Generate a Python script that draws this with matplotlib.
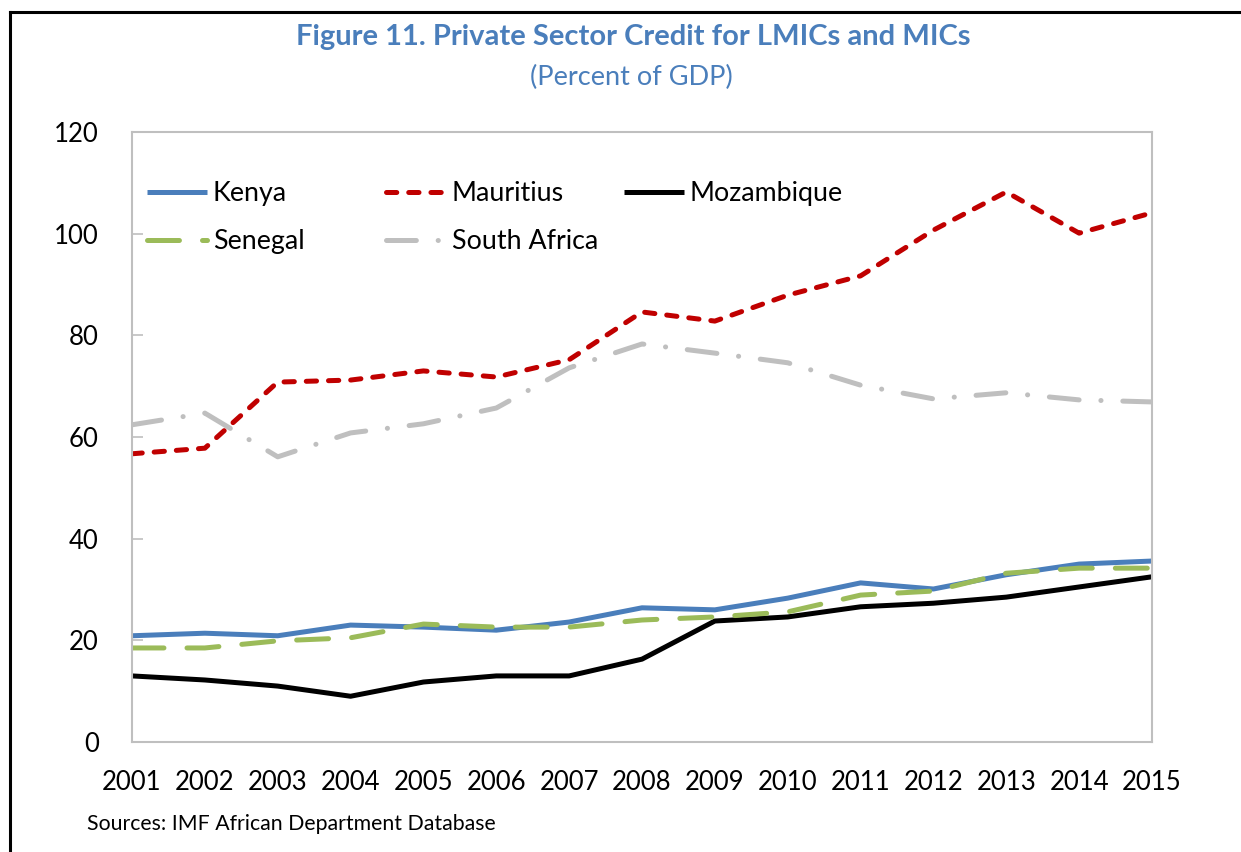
import matplotlib
matplotlib.use("Agg")
import matplotlib.pyplot as plt
from matplotlib.lines import Line2D

plt.rcParams['font.family'] = ['Lato', 'DejaVu Sans']
plt.rcParams['lines.scale_dashes'] = False

years = [str(y) for y in range(2001, 2016)]
kenya = [20.9, 21.4, 20.9, 23.0, 22.6, 22.0, 23.6, 26.4, 26.0, 28.3, 31.3, 30.1, 32.9, 35.0, 35.6]
mauritius = [56.7, 57.8, 70.8, 71.2, 73.0, 71.8, 75.2, 84.6, 82.8, 87.9, 91.7, 100.7, 108.2, 100.1, 104.1]
mozambique = [13.0, 12.2, 11.0, 9.0, 11.8, 13.0, 13.0, 16.3, 23.8, 24.6, 26.6, 27.3, 28.5, 30.5, 32.5]
senegal = [18.5, 18.5, 19.9, 20.5, 23.2, 22.6, 22.6, 24.0, 24.6, 25.6, 28.9, 29.7, 33.2, 34.2, 34.2]
south_africa = [62.4, 64.7, 56.1, 60.8, 62.6, 65.7, 73.6, 78.3, 76.5, 74.6, 70.2, 67.5, 68.7, 67.3, 66.9]

W, H = 1241, 852
fig = plt.figure(figsize=(W / 100, H / 100), dpi=100)
ax = fig.add_axes([132 / W, 1 - 742 / H, (1152 - 132) / W, (742 - 132) / H])

x = list(range(len(years)))
lw = 3.6
l_ken, = ax.plot(x, kenya, color='#4A7EBB', lw=lw, solid_capstyle='butt', label='Kenya')
l_mau, = ax.plot(x, mauritius, color='#C00000', lw=lw, dash_capstyle='round',
                 linestyle=(0, (7.4, 8.6)), label='Mauritius')
l_moz, = ax.plot(x, mozambique, color='black', lw=lw, solid_capstyle='butt', label='Mozambique')
l_sen, = ax.plot(x, senegal, color='#9BBB59', lw=lw, dash_capstyle='round',
                 linestyle=(0, (23, 16.6)), label='Senegal')
l_sa, = ax.plot(x, south_africa, color='#BFBFBF', lw=lw, dash_capstyle='round',
                linestyle=(0, (21.5, 15.7, 0.1, 15.7)), label='South Africa')

ax.set_xlim(0, len(years) - 1)
ax.set_ylim(0, 120)
ax.set_yticks(range(0, 121, 20))
ax.set_xticks(x)
ax.set_xticklabels(years)
ax.set_xticks(range(2, len(years) - 1, 2), minor=True)
ax.tick_params(axis='x', which='major', length=0, pad=20, labelsize=18.5)
ax.tick_params(axis='x', which='minor', length=8, direction='in', color='#BFBFBF', width=1.2)
ax.tick_params(axis='y', length=8, direction='in', color='#BFBFBF', width=1.2, pad=24, labelsize=18.5)
for s in ax.spines.values():
    s.set_color('#BFBFBF')
    s.set_linewidth(1.5)

# legend: three equal-width columns
columns = [([l_ken, l_sen], 147), ([l_mau, l_sa], 386), ([l_moz], 624)]
legs = []
for handles, xpx in columns:
    lg = fig.legend(handles=handles, loc='upper left', frameon=False,
                    bbox_to_anchor=(xpx / W, 1 - 181 / H), bbox_transform=fig.transFigure,
                    fontsize=19.3, handlelength=2.25, handletextpad=0.2,
                    labelspacing=0.87, borderpad=0, borderaxespad=0)
    legs.append(lg)

fig.text(633 / W, 1 - 37 / H, 'Figure 11. Private Sector Credit for LMICs and MICs', ha='center', va='center',
         fontsize=21, fontweight='bold', color='#4A7EBB')
fig.text(631 / W, 1 - 77 / H, '(Percent of GDP)', ha='center', va='center', fontsize=19.5, color='#4A7EBB')
fig.text(87 / W, 1 - 824 / H, 'Sources: IMF African Department Database', ha='left', va='center', fontsize=15.3)

# figure border (left and top)
fig.add_artist(Line2D([10 / W, 10 / W], [0, 1 - 12 / H], color='black', lw=2.2, transform=fig.transFigure))
fig.add_artist(Line2D([10 / W, 1], [1 - 12 / H, 1 - 12 / H], color='black', lw=2.2, transform=fig.transFigure))

fig.savefig('out.png', dpi=100)
